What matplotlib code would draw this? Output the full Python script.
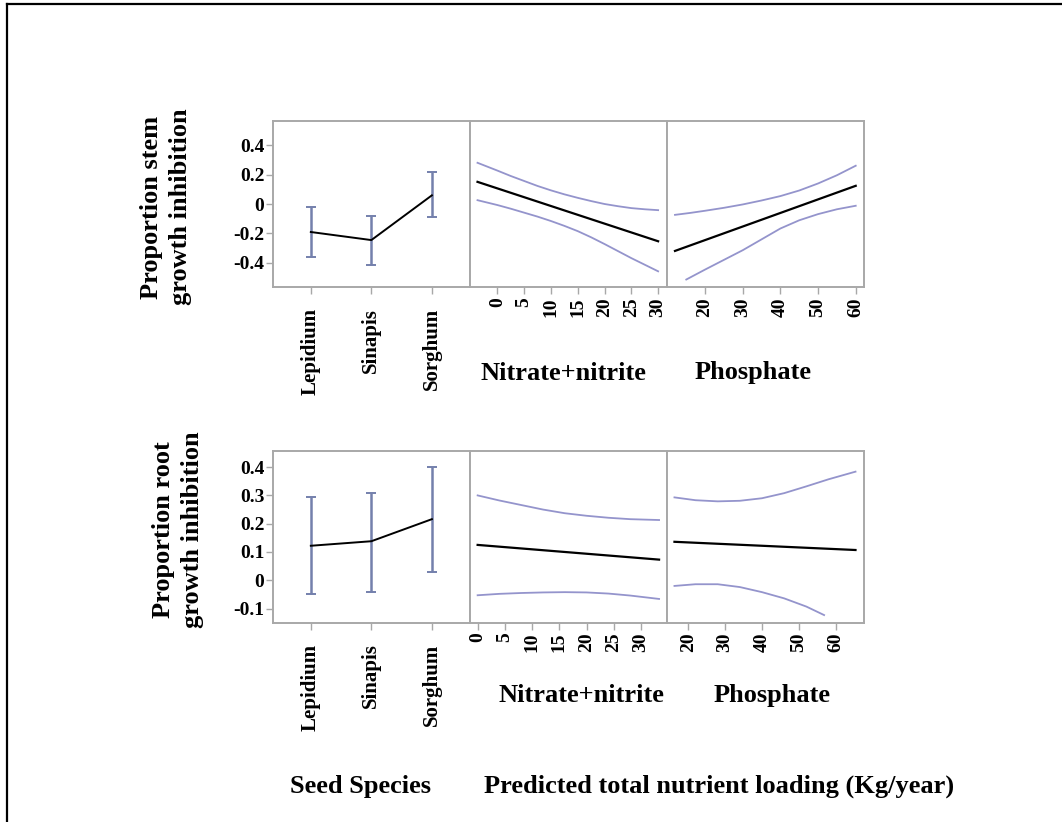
import matplotlib
matplotlib.use("Agg")
import matplotlib.pyplot as plt
from matplotlib.lines import Line2D

plt.rcParams['font.family'] = ['Liberation Serif', 'DejaVu Serif']
plt.rcParams['font.weight'] = 'bold'

# seed species effects (mean with interval)
species = ["Lepidium", "Sinapis", "Sorghum"]
stem_mean = [-0.19, -0.245, 0.06]
stem_lo = [-0.36, -0.418, -0.09]
stem_hi = [-0.02, -0.082, 0.22]
root_mean = [0.122, 0.138, 0.216]
root_lo = [-0.049, -0.040, 0.030]
root_hi = [0.293, 0.310, 0.399]

# stem: nitrate+nitrite fit and band
stem_no3_fit_x = [-3.7, 30]
stem_no3_fit = [0.152, -0.253]
stem_no3_x = [-3.7, 0, 2.5, 5, 7.5, 10, 12.5, 15, 17.5, 20, 22.5, 25, 27.5, 30]
stem_no3_hi = [0.282, 0.229, 0.192, 0.158, 0.124, 0.094, 0.067, 0.043, 0.021,
               0.001, -0.014, -0.027, -0.035, -0.041]
stem_no3_lo = [0.027, -0.006, -0.031, -0.058, -0.085, -0.115, -0.148, -0.184,
               -0.226, -0.272, -0.320, -0.368, -0.413, -0.458]

# stem: phosphate fit and band
stem_po4_fit_x = [12, 60]
stem_po4_fit = [-0.319, 0.125]
stem_po4_hi_x = [12, 16, 20, 25, 30, 35, 40, 45, 50, 55, 60]
stem_po4_hi = [-0.073, -0.060, -0.045, -0.025, -0.002, 0.025, 0.055, 0.093,
               0.141, 0.197, 0.262]
stem_po4_lo_x = [15, 20, 25, 30, 35, 40, 45, 50, 55, 60]
stem_po4_lo = [-0.514, -0.446, -0.380, -0.314, -0.240, -0.166, -0.110, -0.068,
               -0.035, -0.011]

# root: nitrate+nitrite fit and band
root_no3_fit_x = [0, 33.3]
root_no3_fit = [0.125, 0.073]
root_no3_x = [0, 4, 8, 12, 16, 20, 24, 28, 33.3]
root_no3_hi = [0.300, 0.282, 0.266, 0.250, 0.237, 0.228, 0.221, 0.216, 0.213]
root_no3_lo = [-0.053, -0.048, -0.045, -0.043, -0.042, -0.043, -0.047, -0.054,
               -0.066]

# root: phosphate fit and band
root_po4_fit_x = [16.3, 65.3]
root_po4_fit = [0.136, 0.107]
root_po4_hi_x = [16.3, 22, 28, 34, 40, 46, 52, 58, 65.3]
root_po4_hi = [0.293, 0.283, 0.279, 0.281, 0.290, 0.308, 0.332, 0.357, 0.384]
root_po4_lo_x = [16.3, 22, 28, 34, 40, 46, 52, 56.8]
root_po4_lo = [-0.020, -0.014, -0.014, -0.024, -0.042, -0.064, -0.093, -0.123]

stem_yticks = [0.4, 0.2, 0, -0.2, -0.4]
stem_ylabels = ["0.4", "0.2", "0", "-0.2", "-0.4"]
root_yticks = [0.4, 0.3, 0.2, 0.1, 0, -0.1]
root_ylabels = ["0.4", "0.3", "0.2", "0.1", "0", "-0.1"]
no3_ticks = [0, 5, 10, 15, 20, 25, 30]
po4_ticks = [20, 30, 40, 50, 60]

FRAME = "#a8a8a8"
BAND = "#9494cc"
ERR = "#7480ac"

W, H = 1062, 822
fig = plt.figure(figsize=(W / 100, H / 100), dpi=100)


def px_axes(x0, y0, x1, y1):
    return fig.add_axes([x0 / W, 1 - y1 / H, (x1 - x0) / W, (y1 - y0) / H])


def style(ax):
    for s in ax.spines.values():
        s.set_color(FRAME)
        s.set_linewidth(1.4)
    ax.tick_params(colors=FRAME, labelcolor="black", length=5, width=1)


def species_panel(ax, mean, lo, hi, yticks, ylabels, ylim):
    xs = range(len(species))
    err = [[m - l for m, l in zip(mean, lo)], [h - m for m, h in zip(mean, hi)]]
    ax.errorbar(xs, mean, yerr=err, fmt="none", ecolor=ERR, elinewidth=1.8,
                capsize=3.5, capthick=1.4)
    ax.plot(xs, mean, color="black", lw=1.4)
    ax.set_xlim(-0.63, 2.63)
    ax.set_ylim(*ylim)
    ax.set_xticks(list(xs))
    ax.set_xticklabels(species, rotation=90, fontsize=15, fontweight="bold")
    ax.set_yticks(yticks)
    ax.set_yticklabels(ylabels, fontsize=14, fontweight="bold")
    ax.tick_params(axis="x", pad=10)
    ax.tick_params(axis="y", pad=1)
    style(ax)


def fit_panel(ax, fx, fy, hx, hy, lx, ly, xlim, ylim, ticks):
    ax.plot(hx, hy, color=BAND, lw=1.3)
    ax.plot(lx, ly, color=BAND, lw=1.3)
    ax.plot(fx, fy, color="black", lw=1.6)
    ax.set_xlim(*xlim)
    ax.set_ylim(*ylim)
    ax.set_yticks([])
    ax.set_xticks(ticks)
    ax.set_xticklabels([str(t) for t in ticks], rotation=90, fontsize=14,
                       fontweight="bold")
    ax.tick_params(axis="x", pad=2)
    style(ax)


stem_ylim = (-0.567, 0.569)
root_ylim = (-0.150, 0.457)

# top row: stem inhibition
ax = px_axes(272.7, 120.7, 470, 287.3)
species_panel(ax, stem_mean, stem_lo, stem_hi, stem_yticks, stem_ylabels, stem_ylim)
ax = px_axes(470, 120.7, 666.7, 287.3)
fit_panel(ax, stem_no3_fit_x, stem_no3_fit, stem_no3_x, stem_no3_hi,
          stem_no3_x, stem_no3_lo, (-5.1, 31.6), stem_ylim, no3_ticks)
ax = px_axes(666.7, 120.7, 864, 287.3)
fit_panel(ax, stem_po4_fit_x, stem_po4_fit, stem_po4_hi_x, stem_po4_hi,
          stem_po4_lo_x, stem_po4_lo, (9.8, 62.2), stem_ylim, po4_ticks)

# bottom row: root inhibition
ax = px_axes(272.7, 451, 470, 622.7)
species_panel(ax, root_mean, root_lo, root_hi, root_yticks, root_ylabels, root_ylim)
ax = px_axes(470, 451, 666.7, 622.7)
fit_panel(ax, root_no3_fit_x, root_no3_fit, root_no3_x, root_no3_hi,
          root_no3_x, root_no3_lo, (-1.4, 34.7), root_ylim, no3_ticks)
ax = px_axes(666.7, 451, 864, 622.7)
fit_panel(ax, root_po4_fit_x, root_po4_fit, root_po4_hi_x, root_po4_hi,
          root_po4_lo_x, root_po4_lo, (14.2, 67.6), root_ylim, po4_ticks)


def label(x, y, s, **kw):
    fig.text(x / W, 1 - y / H, s, ha="center", va="center",
             fontweight="bold", **kw)


label(166, 207, "Proportion stem\ngrowth inhibition", fontsize=19,
      rotation=90, linespacing=1.3)
label(178, 530, "Proportion root\ngrowth inhibition", fontsize=19,
      rotation=90, linespacing=1.3)
label(563, 373, "Nitrate+nitrite", fontsize=19)
label(753, 373, "Phosphate", fontsize=19)
label(581, 695, "Nitrate+nitrite", fontsize=19)
label(772, 695, "Phosphate", fontsize=19)
label(360, 786, "Seed Species", fontsize=19)
label(719, 786, "Predicted total nutrient loading (Kg/year)", fontsize=19)

# frame lines along the left and top edge
fig.add_artist(Line2D([7 / W, 7 / W], [0, 1 - 4 / H], color="black", lw=1.6))
fig.add_artist(Line2D([7 / W, 1], [1 - 4 / H, 1 - 4 / H], color="black", lw=1.6))

fig.savefig("out.png", dpi=100)
